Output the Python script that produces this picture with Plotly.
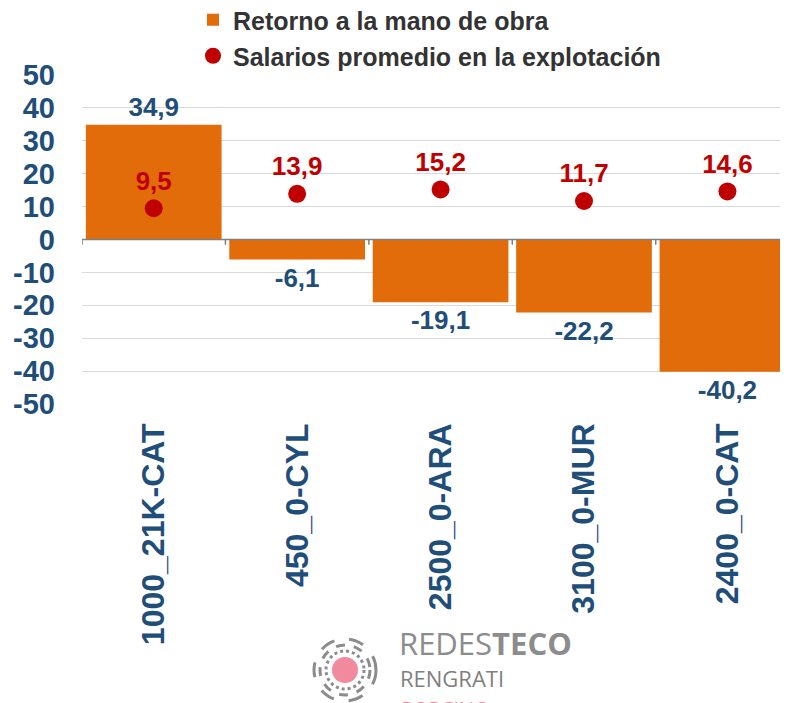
import plotly.graph_objects as go

categories = ["1000_21K-CAT", "450_0-CYL", "2500_0-ARA", "3100_0-MUR", "2400_0-CAT"]
retorno = [34.9, -6.1, -19.1, -22.2, -40.2]
salarios = [9.5, 13.9, 15.2, 11.7, 14.6]
y_ticks = [50, 40, 30, 20, 10, 0, -10, -20, -30, -40, -50]

BLUE = "#1F4E79"
ORANGE = "#E36C0A"
RED = "#C00000"
FONT = "Liberation Sans, Arial, sans-serif"

W, H = 788, 703
OFF = 8  # page body margin
L, T, B = 74, 67, 396
PW, PH = W - L, B - T

def px_x(p):  # screenshot pixel -> paper
    return (p - OFF - L) / PW

def px_y(p):
    return (B - (p - OFF)) / PH

fig = go.Figure()
fig.add_trace(go.Bar(
    x=categories, y=retorno, name="Retorno a la mano de obra",
    marker=dict(color=ORANGE, line=dict(width=0)), width=0.946,
    text=[f"{v:.1f}".replace(".", ",") for v in retorno],
    textposition="outside", cliponaxis=False,
    textfont=dict(family=FONT, size=26, color=BLUE, weight="bold"),
    legend="legend",
))
fig.add_trace(go.Scatter(
    x=categories, y=salarios, name="Salarios promedio en la explotación",
    mode="markers+text", marker=dict(color=RED, size=18),
    text=[f"{v:.1f}".replace(".", ",") for v in salarios],
    textposition="top center", cliponaxis=False,
    textfont=dict(family=FONT, size=26, color=RED, weight="bold"),
    legend="legend2",
))

shapes = []
# zero line with category separator ticks
shapes.append(dict(type="line", xref="x", yref="y", x0=-0.5, x1=len(categories) - 0.5,
                   y0=0, y1=0, line=dict(color="#7F7F7F", width=1.5), layer="above"))
for i in range(len(categories) + 1):
    shapes.append(dict(type="line", xref="x", yref="y", x0=i - 0.5, x1=i - 0.5,
                       y0=0, y1=-1.6, line=dict(color="#7F7F7F", width=1.5), layer="above"))

# logo icon
cx, cy = 345, 670
def circ(r, **kw):
    return dict(type="circle", xref="paper", yref="paper",
                x0=px_x(cx - r), x1=px_x(cx + r), y0=px_y(cy + r), y1=px_y(cy - r), **kw)
shapes.append(circ(13, fillcolor="#F08A9C", line=dict(width=0)))
shapes.append(circ(19, line=dict(color="#8C8C8C", width=3, dash="dot")))
shapes.append(circ(25, line=dict(color="#8C8C8C", width=3, dash="dash")))
shapes.append(circ(31, line=dict(color="#8C8C8C", width=3, dash="longdash")))

annotations = [
    dict(xref="paper", yref="paper", x=px_x(397), y=px_y(643), xanchor="left", yanchor="middle",
         text="REDES<b>TECO</b>", showarrow=False,
         font=dict(family="Open Sans, Roboto, sans-serif", size=31, color="#8C8C8C")),
    dict(xref="paper", yref="paper", x=px_x(398), y=px_y(678), xanchor="left", yanchor="middle",
         text="RENGRATI", showarrow=False,
         font=dict(family="Open Sans, Roboto, sans-serif", size=22, color="#7F7F7F")),
    dict(xref="paper", yref="paper", x=px_x(399), y=px_y(708), xanchor="left", yanchor="middle",
         text="PORCINO", showarrow=False,
         font=dict(family="Open Sans, Roboto, sans-serif", size=20, color="#F08A9C")),
]

fig.update_layout(
    width=W, height=H,
    margin=dict(l=L, r=0, t=T, b=H - B, pad=0, autoexpand=False),
    paper_bgcolor="white", plot_bgcolor="white",
    separators=",.",
    font=dict(family=FONT),
    showlegend=True,
    legend=dict(xref="container", yref="container", x=185 / W, y=1 - 12 / H,
                xanchor="left", yanchor="middle", bgcolor="rgba(0,0,0,0)",
                font=dict(family=FONT, size=25, color="#333333", weight="bold"),
                itemwidth=30),
    legend2=dict(xref="container", yref="container", x=185 / W, y=1 - 48 / H,
                 xanchor="left", yanchor="middle", bgcolor="rgba(0,0,0,0)",
                 font=dict(family=FONT, size=25, color="#333333", weight="bold"),
                 itemwidth=30),
    xaxis=dict(range=[-0.5, 4.478], showgrid=False, zeroline=False, showline=False,
               tickangle=-90, ticks="", ticklabelstandoff=12, automargin=False,
               tickfont=dict(family=FONT, size=32, color=BLUE, weight="bold")),
    yaxis=dict(range=[-50, 50], tickvals=y_ticks, ticktext=[str(v) for v in y_ticks],
               showgrid=True, gridcolor="#D9D9D9", automargin=False,
               gridwidth=1, zeroline=False, showline=False, ticks="",
               ticklabelstandoff=26,
               tickfont=dict(family=FONT, size=29, color=BLUE, weight="bold")),
    shapes=shapes, annotations=annotations,
)

fig.write_html("out.html")
